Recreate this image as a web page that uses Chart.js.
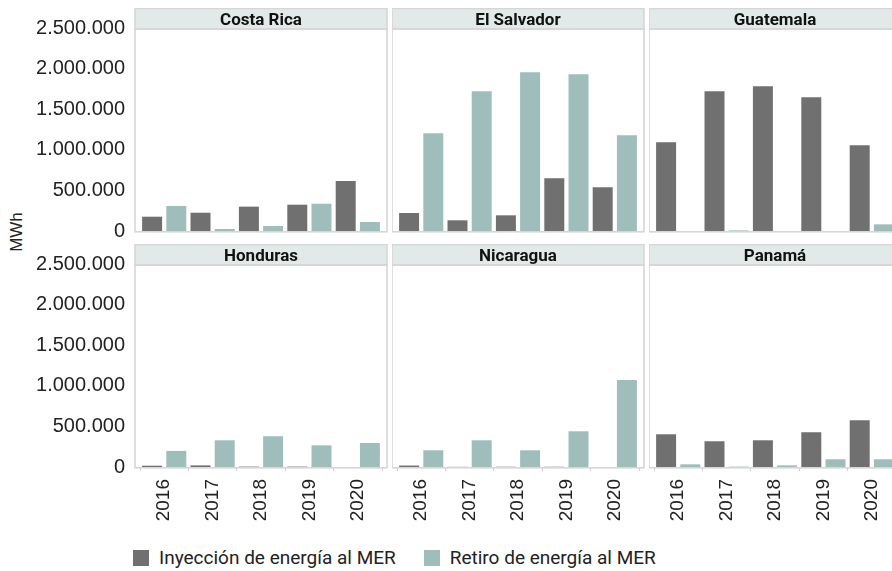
<!DOCTYPE html>
<html><head><meta charset="utf-8">
<script src="https://cdn.jsdelivr.net/npm/chart.js@4.4.1/dist/chart.umd.min.js"></script>
<style>
html,body{margin:0;padding:0;background:#fff;}
body{width:892px;height:571px;overflow:hidden;position:relative;font-family:"Liberation Sans",Arial,sans-serif;}
canvas.pc{position:absolute;display:block;}
#ytitle{position:absolute;left:17px;top:232px;transform:translate(-50%,-50%) rotate(-90deg);font-size:17px;color:#222;white-space:nowrap;}
#legend{position:absolute;left:133px;top:546px;display:flex;align-items:center;font-family:Roboto,"Liberation Sans",sans-serif;font-size:19px;color:#222;white-space:nowrap;}
#legend .sw{width:16px;height:16px;display:inline-block;margin-right:10px;}
#legend .it{display:flex;align-items:center;margin-right:28px;}
</style></head><body>
<div id="ytitle">MWh</div>
<div id="legend"></div>
<script>
const years = ['2016','2017','2018','2019','2020'];
const countries = ['Costa Rica','El Salvador','Guatemala','Honduras','Nicaragua','Panamá'];
const seriesNames = ['Inyección de energía al MER','Retiro de energía al MER'];
const seriesColors = ['#707070','#9fbebb'];
const yTicks = [0, 500000, 1000000, 1500000, 2000000, 2500000];

const costaRicaIny  = [176000, 225000, 300000, 324000, 616000];
const costaRicaRet  = [308000, 25000, 62000, 336000, 111000];
const elSalvadorIny = [222000, 132000, 193000, 649000, 538000];
const elSalvadorRet = [1203000, 1720000, 1954000, 1930000, 1178000];
const guatemalaIny  = [1092000, 1720000, 1782000, 1646000, 1055000];
const guatemalaRet  = [0, 8000, 0, 0, 82000];
const hondurasIny   = [16000, 20000, 5000, 5000, 0];
const hondurasRet   = [198000, 329000, 379000, 267000, 296000];
const nicaraguaIny  = [18000, 2000, 3000, 3000, 0];
const nicaraguaRet  = [206000, 329000, 206000, 440000, 1070000];
const panamaIny     = [403000, 317000, 329000, 428000, 576000];
const panamaRet     = [33000, 5000, 20000, 95000, 95000];

const panelData = [
  [costaRicaIny, costaRicaRet],
  [elSalvadorIny, elSalvadorRet],
  [guatemalaIny, guatemalaRet],
  [hondurasIny, hondurasRet],
  [nicaraguaIny, nicaraguaRet],
  [panamaIny, panamaRet]
];

// legend
const leg = document.getElementById('legend');
seriesNames.forEach((n,i)=>{
  const it = document.createElement('span'); it.className='it';
  const sw = document.createElement('span'); sw.className='sw'; sw.style.background=seriesColors[i];
  it.appendChild(sw); it.appendChild(document.createTextNode(n));
  leg.appendChild(it);
});

// choose a condensed bold font for strip headers if available
function fontAvailable(name){
  const c = document.createElement('canvas').getContext('2d');
  c.font = '20px monospace'; const a = c.measureText('Costa Rica El Salvador').width;
  c.font = '20px "'+name+'", monospace'; const b = c.measureText('Costa Rica El Salvador').width;
  return a !== b;
}
const headerFont = fontAvailable('Liberation Sans Narrow')
  ? 'bold 19px "Liberation Sans Narrow", sans-serif'
  : 'bold 17px Roboto, "Liberation Sans", sans-serif';

const frame = {
  id:'frame',
  afterDraw(chart, args, opts){
    const ctx = chart.ctx, a = chart.chartArea;
    const bl = a.left - 5, br = a.right + 5;
    const ht = opts.headerTop, hb = a.top + 1;
    ctx.save();
    ctx.fillStyle = '#e2eae9';
    ctx.fillRect(bl, ht, br-bl, hb-ht);
    ctx.strokeStyle = '#d6d6d6';
    ctx.lineWidth = 1.6;
    ctx.strokeRect(bl, ht, br-bl, hb-ht);
    ctx.strokeRect(bl, hb, br-bl, a.bottom + 0.8 - hb);
    ctx.fillStyle = '#111';
    ctx.font = headerFont;
    ctx.textAlign = 'center'; ctx.textBaseline = 'middle';
    ctx.fillText(opts.title, (bl+br)/2, (ht+hb)/2 + 1.5);
    ctx.restore();
  }
};

const fmt = v => v.toLocaleString('de-DE');

for (let idx=0; idx<6; idx++){
  const r = Math.floor(idx/3), c = idx%3;
  const L = [140, 397, 654][c];
  const x0 = c===0 ? 0 : L-5;
  const width = (L - x0) + 242 + 6;
  const y0 = r===0 ? 8 : 244;
  const height = r===0 ? 235 : 293;
  const showX = r===1, showY = c===0;
  const cv = document.createElement('canvas');
  cv.className='pc';
  cv.width = width; cv.height = height;
  cv.style.left = x0+'px'; cv.style.top = y0+'px';
  cv.style.width = width+'px'; cv.style.height = height+'px';
  document.body.appendChild(cv);
  new Chart(cv, {
    type:'bar',
    data:{
      labels: years,
      datasets: seriesNames.map((n,i)=>({
        label:n, data: panelData[idx][i], backgroundColor: seriesColors[i],
        barPercentage: 0.826, categoryPercentage: 1.0, borderWidth:0
      }))
    },
    options:{
      responsive:false, maintainAspectRatio:false, animation:false,
      devicePixelRatio:1,
      layout:{padding:{left: showY?0:5, right:6, top:20, bottom: r===0?12:0}},
      plugins:{legend:{display:false}, tooltip:{enabled:false},
        frame:{title: countries[idx], headerTop: 0.5}},
      scales:{
        x:{
          display: showX,
          offset:true,
          grid:{display:true, drawOnChartArea:false, drawTicks:true, tickLength:4, color:'#cfcfcf'},
          border:{display:false},
          ticks:{minRotation:90, maxRotation:90, autoSkip:false, padding:8, color:'#222',
                 font:{family:'"Liberation Sans", Arial, sans-serif', size:19}},
          afterFit(s){ s.height = showX ? 70 : 0; s.paddingLeft = 0; s.paddingRight = 0; }
        },
        y:{
          display: showY,
          min:0, max:2500000,
          afterBuildTicks(s){ s.ticks = yTicks.map(v=>({value:v})); },
          grid:{display:false},
          border:{display:false},
          ticks:{padding:7, autoSkip:false, color:'#222', callback: v=>fmt(v),
                 font:{family:'"Liberation Sans", Arial, sans-serif', size:20}},
          afterFit(s){ s.width = showY ? 140 : 0; s.paddingTop = 0; s.paddingBottom = 0; }
        }
      }
    },
    plugins:[frame]
  });
}
</script>
</body></html>
